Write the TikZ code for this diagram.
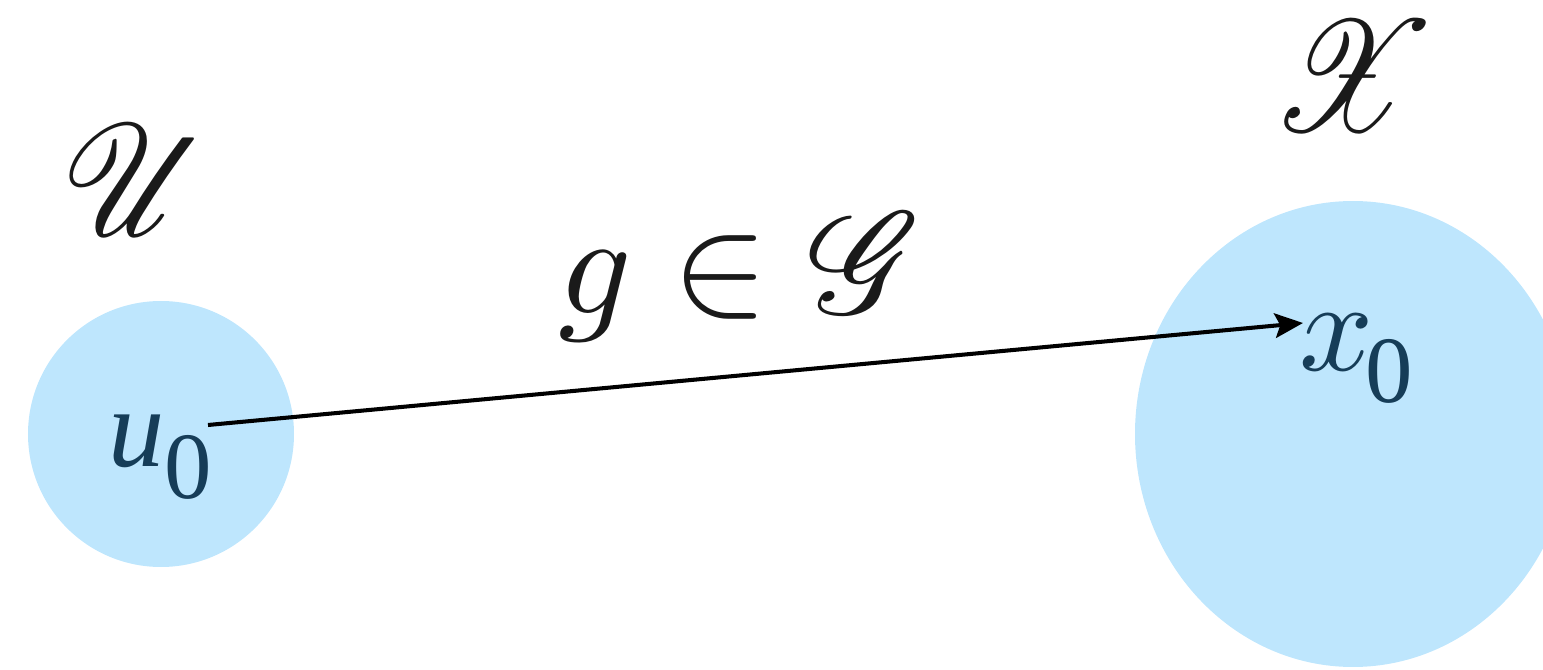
\documentclass[tikz,border=0pt]{standalone}
\usepackage{amsmath}
\usepackage{mathrsfs}
\usepackage{fontspec}
\newfontfamily\timesfont{Liberation Serif}
% scalable math fonts (the default shapes stop at 24.88pt)
\DeclareFontFamily{U}{rsfs}{\skewchar\font127 }
\DeclareFontShape{U}{rsfs}{m}{n}{<-6> rsfs5 <6-8> rsfs7 <8-> rsfs10}{}
\DeclareFontShape{OML}{cmm}{m}{it}{<-> cmmi10}{}
\DeclareFontShape{OMS}{cmsy}{m}{n}{<-> cmsy10}{}
\usetikzlibrary{arrows.meta}
\usetikzlibrary{positioning}
\definecolor{setfill}{HTML}{BEE6FD}
\definecolor{pointtext}{HTML}{163D58}
\definecolor{inktext}{HTML}{1A1A1A}

% subscript digit, Times-like
\newcommand{\ptsub}[1]{\raisebox{-0.28em}{\timesfont\fontsize{27}{30}\selectfont #1}}

\begin{document}
\begin{tikzpicture}[
    >=Stealth,
    blob/.style={fill=setfill, draw=none},
    setlabel/.style={text=inktext, inner sep=0pt, font=\fontsize{45}{50}\selectfont,
                     xscale=0.87, transform shape},
    maplabel/.style={text=inktext, inner sep=0pt, font=\fontsize{41}{48}\selectfont},
    ptlabel/.style={text=pointtext, inner sep=0pt, font=\fontsize{32}{38}\selectfont},
    maparrow/.style={line width=1.15pt, black,
                     arrows={-Stealth[length=8pt, width=7pt, inset=1.5pt]}},
]

% ── Canvas (reference is 1543 x 669 px, 1px = 0.01cm) ──
\useasboundingbox (0,0) rectangle (15.43,6.69);
\clip (0,0) rectangle (15.43,6.69);

% ── The two sets ──
\fill[blob] (1.61,2.35) circle (1.33);
\fill[blob] (13.53,2.35) ellipse (2.18 and 2.33);

\node[setlabel] (U) at (1.35,4.89) {$\mathscr{U}$};
\node[setlabel] (X) at (13.53,5.93) {$\mathscr{X}$};

% ── Points ──
\node[ptlabel] (u0) at (1.60,2.12) {{\timesfont\itshape u}\ptsub{0}};
\node[ptlabel] (x0) at (13.56,3.10) {{\fontsize{37}{40}\selectfont$x$}\kern-2.3pt\ptsub{0}};

% ── The map g ──
\node[maplabel] (gG) at (7.40,3.92) {$g \in \mathscr{G}$};

\coordinate (tail) at (2.08,2.44);
\coordinate (head) at (13.03,3.46);
\draw[maparrow] (tail) -- (head);

\end{tikzpicture}
\end{document}
